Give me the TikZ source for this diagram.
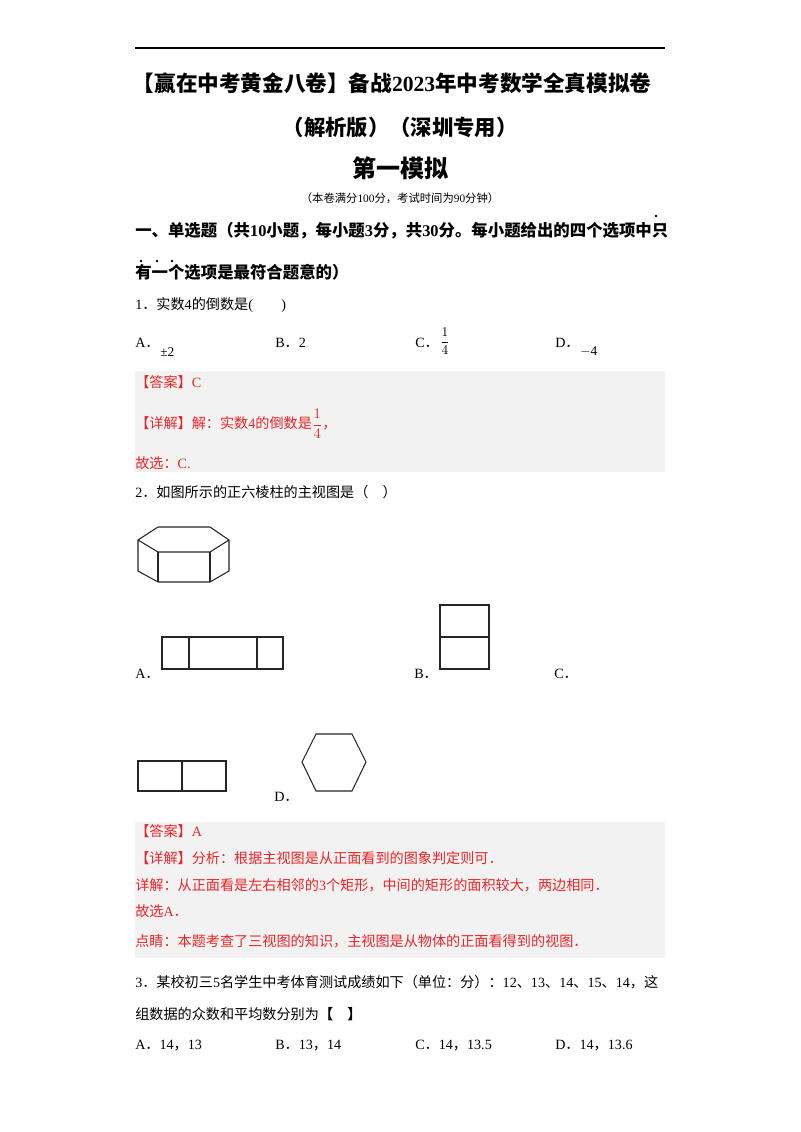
\documentclass[tikz,border=0pt]{standalone}
\usepackage{fontspec}
\setmainfont{Noto Sans CJK SC}
\newfontfamily\tm{Liberation Serif}
\definecolor{ans}{HTML}{E8262A}
\definecolor{boxg}{HTML}{F2F2F2}
\begin{document}
\begin{tikzpicture}[x=0.75pt,y=-0.75pt,
  t/.style={anchor=west,inner sep=0pt,font=\fontsize{10.6}{12}\selectfont},
  h/.style={anchor=west,inner sep=0pt,font=\fontsize{12.3}{14}\selectfont\bfseries},
  r/.style={t,text=ans},
  fig/.style={draw=black!85,line width=0.8pt}]
\useasboundingbox (0,0) rectangle (800,1132);
\fill[white] (0,0) rectangle (800,1132);
\draw[line width=1pt] (135,48) -- (665,48);
\node[inner sep=0pt,font=\fontsize{16.2}{18}\selectfont\bfseries] (t1) at (392,83) {【赢在中考黄金八卷】备战{\tm 2023}年中考数学全真模拟卷};
\node[inner sep=0pt,font=\fontsize{16}{18}\selectfont\bfseries] (t2) at (400,127) {（解析版）（深圳专用）};
\node[inner sep=0pt,font=\fontsize{18}{20}\selectfont\bfseries] (t3) at (400,168) {第一模拟};
\node[inner sep=0pt,font=\fontsize{8.5}{10}\selectfont] (t4) at (400,198) {（本卷满分{\tm 100}分，考试时间为{\tm 90}分钟）};
\node[h] (s1) at (135,231) {一、单选题（共{\tm 10}小题，每小题{\tm 3}分，共{\tm 30}分。每小题给出的四个选项中只};
\node[h] (s2) at (135,272) {有一个选项是最符合题意的）};
\foreach \xx/\yy in {656/216,141/261,157/261,172/261} \fill (\xx,\yy) circle (1.4);
\node[t] (q1) at (135,305) {{\tm 1}．实数{\tm 4}的倒数是{\tm(\qquad)}};
\node[t] (a1) at (135,343) {{\tm A}．};
\node[t,font=\tm\fontsize{10}{12}\selectfont] (a1v) at (160,352) {±2};
\node[t] (b1) at (275,343) {{\tm B}．{\tm 2}};
\node[t] (c1) at (415,343) {{\tm C}．};
\node[inner sep=0pt,font=\tm\fontsize{10}{12}\selectfont] (c1v) at (445,341) {$\displaystyle\frac{1}{4}$};
\node[t] (d1) at (555,343) {{\tm D}．};
\node[t,font=\tm\fontsize{10}{12}\selectfont] (d1v) at (580,352) {$-$4};
\fill[boxg] (135,371) rectangle (665,472);
\node[r] (ans1) at (135,382) {【答案】{\tm C}};
\node[r] (det1) at (135,424) {【详解】解：实数{\tm 4}的倒数是{\tm$\displaystyle\frac{1}{4}$}，};
\node[r] (sel1) at (135,463) {故选：{\tm C.}};
\node[t] (q2) at (135,492) {{\tm 2}．如图所示的正六棱柱的主视图是（　）};
% prism
\draw[fig] (138,540) -- (158,527) -- (210,527) -- (229,540) -- (229,571) -- (210,582) -- (158,582) -- (138,571) -- cycle;
\draw[fig] (138,540) -- (158,552) -- (210,552) -- (229,540);
\draw[fig] (158,552) -- (158,582) (210,552) -- (210,582);
% A
\draw[fig] (162,637) rectangle (283,669) (189,637) -- (189,669) (257,637) -- (257,669);
\node[t] (oa) at (135,674) {{\tm A}．};
% B
\draw[fig] (440,605) rectangle (489,669) (440,637) -- (489,637);
\node[t] (ob) at (414,674) {{\tm B}．};
\node[t] (oc) at (554,674) {{\tm C}．};
% C figure
\draw[fig] (138,761) rectangle (226,791) (182,761) -- (182,791);
\draw[fig] (316,734) -- (352,734) -- (366,762) -- (352,791) -- (316,791) -- (302,762) -- cycle;
\node[t] (od) at (274,797) {{\tm D}．};
\fill[boxg] (135,822) rectangle (665,958);
\node[r] (ans2) at (135,831) {【答案】{\tm A}};
\node[r] (det2) at (135,858) {【详解】分析：根据主视图是从正面看到的图象判定则可．};
\node[r] (det3) at (135,885) {详解：从正面看是左右相邻的{\tm 3}个矩形，中间的矩形的面积较大，两边相同．};
\node[r] (sel2) at (135,911) {故选{\tm A}．};
\node[r] (pt2) at (135,941) {点睛：本题考查了三视图的知识，主视图是从物体的正面看得到的视图．};
\node[t] (q3) at (135,982) {{\tm 3}．某校初三{\tm 5}名学生中考体育测试成绩如下（单位：分）：{\tm 12}、{\tm 13}、{\tm 14}、{\tm 15}、{\tm 14}，这};
\node[t] (q3b) at (135,1014) {组数据的众数和平均数分别为\textbf{【　】}};
\node[t] (o3a) at (135,1046) {{\tm A}．{\tm 14}，{\tm 13}};
\node[t] (o3b) at (275,1046) {{\tm B}．{\tm 13}，{\tm 14}};
\node[t] (o3c) at (415,1046) {{\tm C}．{\tm 14}，{\tm 13.5}};
\node[t] (o3d) at (555,1046) {{\tm D}．{\tm 14}，{\tm 13.6}};
\end{tikzpicture}
\end{document}
